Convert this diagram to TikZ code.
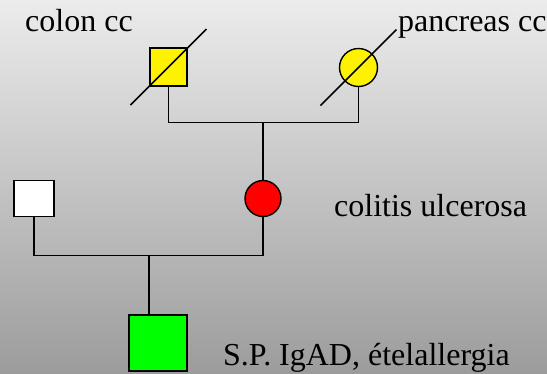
\documentclass[tikz,border=0pt]{standalone}
\usepackage{fontspec}
\setmainfont{Liberation Serif}
\usetikzlibrary{calc}
\begin{document}
\begin{tikzpicture}[x=1pt,y=-1pt,
  ind/.style={draw=black,line width=1.4pt,inner sep=0pt},
  sq/.style={ind,rectangle},
  circ/.style={ind,circle},
  lbl/.style={anchor=base west,inner sep=0pt,font=\rmfamily\fontsize{32}{36}\selectfont},
  link/.style={line width=1.5pt},
  dead/.style={line width=1.5pt}]
\definecolor{bgtop}{RGB}{236,236,236}
\definecolor{bgbot}{RGB}{156,156,156}
\shade[top color=bgtop,bottom color=bgbot] (0pt,0pt) rectangle (547pt,-373pt);
\useasboundingbox (0pt,0pt) rectangle (547pt,-373pt);
% generation I
\node[sq,fill=yellow,minimum width=37pt,minimum height=38pt] (gf) at (168.5,67) {};
\node[circ,fill=yellow,minimum size=38pt] (gm) at (358.5,67.5) {};
\coordinate (u) at (263,122.7);
\draw[link] (gf.south) -- (gf.south |- u) -- (gm.south |- u) -- (gm.south);
\draw[dead] ($(gf.center)+(-38,38)$) coordinate (gfa) -- ($(gf.center)+(38,-38)$) coordinate (gfb);
\draw[dead] ($(gm.center)+(-38,38)$) coordinate (gma) -- ($(gm.center)+(38,-38)$) coordinate (gmb);
% generation II
\node[sq,fill=white,minimum width=40pt,minimum height=36pt] (fa) at (34,198.5) {};
\node[circ,fill=red,minimum size=36pt] (mo) at (263,198.5) {};
\draw[link] (u) -- (u |- mo.north);
\coordinate (v) at (149,255.7);
\draw[link] (fa.south) -- (fa.south |- v) -- (mo.south |- v) -- (mo.south);
% generation III
\node[sq,fill=green,minimum width=58pt,minimum height=56pt] (ch) at (158,343) {};
\draw[link] (v) -- (v |- ch.north);
% labels
\node[lbl] (l1) at (25,31.7) {colon cc};
\node[lbl] (l2) at (398,31.7) {pancreas cc};
\node[lbl] (l3) at (334,216.7) {colitis ulcerosa};
\node[lbl] (l4) at (223,365) {S.P. IgAD, ételallergia};
\end{tikzpicture}
\end{document}
